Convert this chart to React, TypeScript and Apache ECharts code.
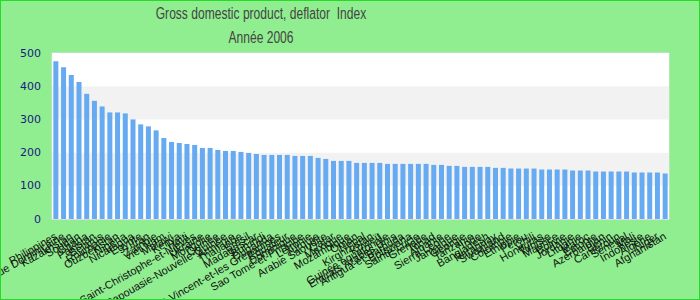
import React, { useEffect, useRef } from "react";
import * as echarts from "echarts";

const titleText = "Gross domestic product, deflator  Index";
const subtitleText = "Année 2006";

const countries: string[] = [
  "Philippines", "République Dominicaine", "Kazakhstan", "Soudan", "Ghana",
  "Pakistan", "Bélarus", "Roumanie", "Ouzbékistan", "Nigéria",
  "Nicaragua", "Egypte", "Iran", "Zambie", "Viet Nam",
  "Malawi", "Kenya", "Haïti", "Saint-Christophe-et-Niévès", "Ukraine",
  "Mongolie", "Guinée", "Papouasie-Nouvelle-Guinée", "Arménie", "Thaïlande",
  "Brésil", "Madagascar", "Burundi", "Ouganda", "Saint-Vincent-et-les Grenadines",
  "Equateur", "Dominique", "Sao Tomé-et-Principe", "Lettonie", "Turquie",
  "Arabie Saoudite", "Qatar", "Mexique", "Mozambique", "Oman",
  "Népal", "Kirghizistan", "Koweït", "Guinée équatoriale", "Emirats Arabes Unis",
  "Antigua-et-Barbuda", "Botswana", "Sainte-Lucie", "Grenade", "Tchad",
  "Albanie", "Sierra Leone", "Jamaïque", "Géorgie", "Tanzanie",
  "Inde", "Bangladesh", "Paraguay", "Swaziland", "Colombie",
  "Ethiopie", "Pérou", "Chili", "Honduras", "Tunisie",
  "Maurice", "Bolivie", "Jordanie", "Lituanie", "Maroc",
  "Estonie", "Azerbaïdjan", "Bénin", "Cameroun", "Sénégal",
  "Mali", "Indonésie", "Algérie", "Niger", "Afghanistan",
];

const deflatorValues: number[] = [
  475, 457, 434, 413, 377, 356, 339, 321, 321, 318,
  300, 285, 279, 267, 244, 232, 229, 226, 223, 214,
  214, 208, 205, 205, 202, 199, 196, 193, 193, 193,
  193, 190, 190, 190, 184, 181, 175, 175, 175, 169,
  169, 169, 169, 166, 166, 166, 166, 166, 166, 163,
  163, 160, 160, 157, 157, 157, 157, 154, 154, 152,
  152, 152, 152, 149, 149, 149, 149, 146, 146, 146,
  143, 143, 143, 143, 143, 140, 140, 140, 140, 137,
];

const yTicks = { min: 0, max: 500, interval: 100 };

export default function App() {
  const ref = useRef<HTMLDivElement>(null);
  useEffect(() => {
    if (!ref.current) return;
    const chart = echarts.init(ref.current, undefined, { renderer: "svg" });
    const titleFont = "17px 'Liberation Sans', Arial, sans-serif";
    chart.setOption({
      animation: false,
      backgroundColor: "#90EE90",
      graphic: [
        {
          type: "text",
          x: 260,
          y: 12,
          scaleX: 0.71,
          style: {
            text: titleText,
            font: titleFont,
            fill: "#444",
            textAlign: "center",
            textVerticalAlign: "middle",
          },
        },
        {
          type: "text",
          x: 260,
          y: 36,
          scaleX: 0.71,
          style: {
            text: subtitleText,
            font: titleFont,
            fill: "#444",
            textAlign: "center",
            textVerticalAlign: "middle",
          },
        },
      ],
      grid: {
        left: 51,
        right: 30,
        top: 52,
        bottom: 80,
        outerBoundsMode: "none",
        containLabel: false,
        show: true,
        backgroundColor: "#ffffff",
        borderColor: "#dddddd",
        borderWidth: 1,
      },
      xAxis: {
        type: "category",
        data: countries,
        axisTick: { show: false },
        axisLine: { show: true, lineStyle: { color: "#dddddd" } },
        axisLabel: {
          interval: 0,
          rotate: 30,
          color: "#111",
          fontFamily: "'Liberation Sans', Arial, sans-serif",
          fontSize: 11,
          margin: 16,
        },
      },
      yAxis: {
        type: "value",
        min: yTicks.min,
        max: yTicks.max,
        interval: yTicks.interval,
        axisLine: { show: false },
        axisTick: { show: false },
        splitLine: { show: false },
        splitArea: { show: true, areaStyle: { color: ["#ffffff", "#f2f2f2"] } },
        axisLabel: { color: "#1a1a80", fontFamily: "DejaVu Sans", fontSize: 11, margin: 11 },
      },
      series: [
        {
          type: "bar",
          data: deflatorValues,
          barCategoryGap: "35%",
          itemStyle: { color: "#66aaf2" },
        },
      ],
    });
    return () => chart.dispose();
  }, []);
  return (
    <div
      ref={ref}
      style={{
        position: "absolute",
        left: 0,
        top: 0,
        width: 700,
        height: 300,
        boxSizing: "border-box",
        border: "1px solid #22dd22",
      }}
    />
  );
}
